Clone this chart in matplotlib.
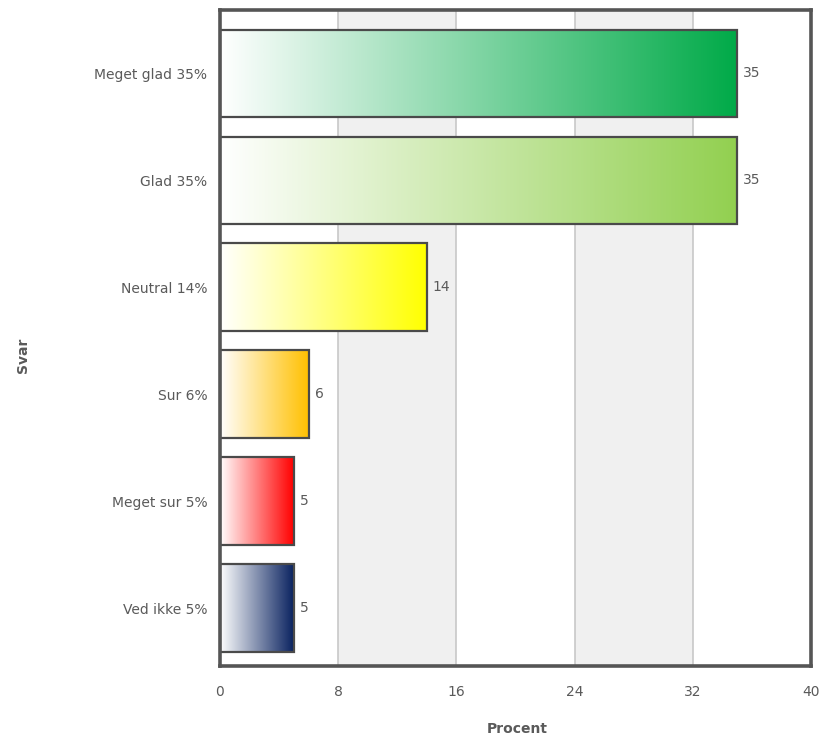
import numpy as np
import matplotlib
matplotlib.use("Agg")
import matplotlib.pyplot as plt
from matplotlib.colors import LinearSegmentedColormap

# Data
labels = ["Meget glad 35%", "Glad 35%", "Neutral 14%", "Sur 6%", "Meget sur 5%", "Ved ikke 5%"]
values = [35, 35, 14, 6, 5, 5]
bar_colors = ["#00aa48", "#92d050", "#ffff00", "#ffc000", "#ff0000", "#0a2360"]
x_ticks = [0, 8, 16, 24, 32, 40]

TEXT = "#5a5a5a"
EDGE = "#4a4a4a"
FS = 10

fig = plt.figure(figsize=(8.26, 7.40), dpi=100, facecolor="white")
ax = fig.add_axes([0.2663, 0.1, 0.7155, 0.8865])

n = len(labels)
y_top, y_bot = -0.593, 5.54

# alternating background bands and grid lines
for i, (a, b) in enumerate(zip(x_ticks[:-1], x_ticks[1:])):
    if i % 2 == 1:
        ax.axvspan(a, b, color="#f0f0f0", zorder=0, lw=0)
for t in x_ticks[1:-1]:
    ax.axvline(t, color="#c8c8c8", lw=1.2, zorder=1)

ypos = np.arange(n)
bh = 0.82
bars = ax.barh(ypos, values, height=bh, color="none", edgecolor=EDGE, lw=1.6, zorder=4)

grad = np.linspace(0, 1, 256).reshape(1, -1)
for bar, col, val in zip(bars, bar_colors, values):
    cmap = LinearSegmentedColormap.from_list("g", ["#ffffff", col])
    x0, y0 = bar.get_x(), bar.get_y()
    w, h = bar.get_width(), bar.get_height()
    ax.imshow(grad, cmap=cmap, extent=(x0, x0 + w, y0 + h, y0), aspect="auto",
              interpolation="bicubic", zorder=3)
    ax.text(val + 0.4, y0 + h / 2, str(val), va="center", ha="left",
            fontsize=FS, color=TEXT)

ax.set_xlim(0, 40)
ax.set_ylim(y_bot, y_top)

ax.set_yticks(ypos)
ax.set_yticklabels(labels)
ax.set_xticks(x_ticks)
ax.tick_params(axis="both", length=0, labelsize=FS, labelcolor=TEXT)
ax.tick_params(axis="y", pad=9)
ax.tick_params(axis="x", pad=14)

for s in ax.spines.values():
    s.set_color("#555555")
    s.set_linewidth(2.6)
    s.set_zorder(5)

ax.set_xlabel("Procent", fontsize=FS, fontweight="bold", color=TEXT)
ax.set_ylabel("Svar", fontsize=FS, fontweight="bold", color=TEXT)
ax.xaxis.set_label_coords(0.5025, -0.086)
ax.yaxis.set_label_coords(-0.322, 0.474)

fig.savefig("out.png", dpi=100, facecolor="white")
